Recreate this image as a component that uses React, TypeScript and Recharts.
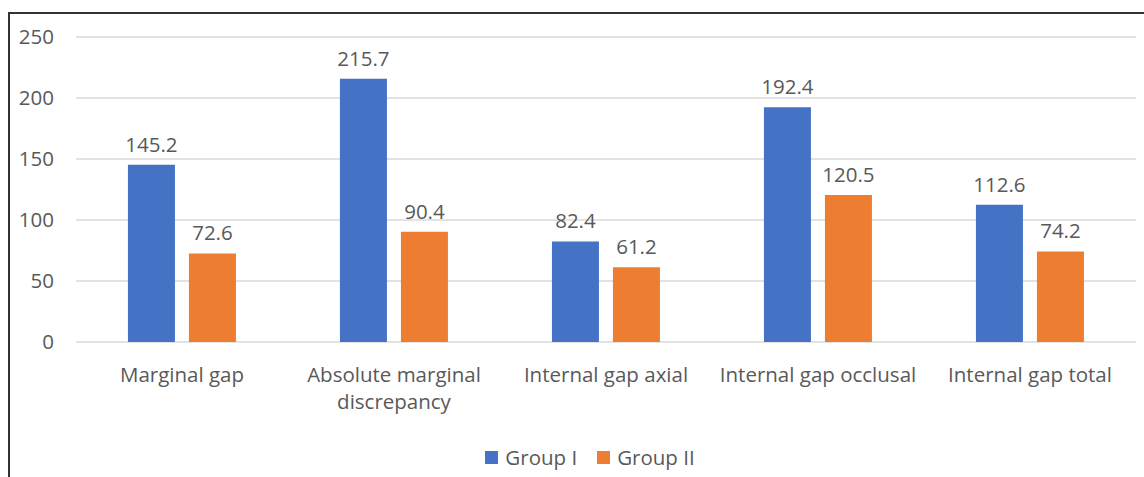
import React from 'react';
import { Bar, BarChart, CartesianGrid, LabelList, Text, XAxis, YAxis } from 'recharts';

const categories = [
  'Marginal gap',
  'Absolute marginal discrepancy',
  'Internal gap axial',
  'Internal gap occlusal',
  'Internal gap total',
];
const groupI = [145.2, 215.7, 82.4, 192.4, 112.6];
const groupII = [72.6, 90.4, 61.2, 120.5, 74.2];
const yTicks = [0, 50, 100, 150, 200, 250];
const legendItems = ['Group I', 'Group II'];

const FONT = '"Open Sans", sans-serif';
const TEXT = '#595959';
const BLUE = '#4472C4';
const ORANGE = '#ED7D31';

const chartData = categories.map((name, i) => ({
  name,
  groupI: groupI[i],
  groupII: groupII[i],
}));

// Category label, wraps onto a second line when it is too wide
const CategoryTick = ({ x, y, payload }: any) => (
  <Text
    x={x}
    y={y}
    dy={17}
    width={212}
    textAnchor="middle"
    verticalAnchor="start"
    lineHeight={27}
    fill={TEXT}
    style={{ fontFamily: FONT, fontSize: 20.5 }}
  >
    {payload.value}
  </Text>
);

const App: React.FC = () => {
  const colors = [BLUE, ORANGE];
  return (
    <div style={{ position: 'absolute', left: 0, top: 0, width: 1144, height: 477, background: '#fff' }}>
      <div
        style={{
          position: 'absolute',
          left: 8,
          top: 12,
          width: 1136,
          height: 465,
          borderLeft: '2px solid #333',
          borderTop: '2px solid #333',
          boxSizing: 'border-box',
        }}
      />
      <div style={{ position: 'absolute', left: 0, top: 0 }}>
        <BarChart
          width={1144}
          height={477}
          data={chartData}
          margin={{ top: 37, right: 8, left: 0, bottom: 105 }}
          barCategoryGap="24.5%"
          barGap={14}
        >
          <CartesianGrid vertical={false} stroke="#E3E3E3" strokeWidth={2} />
          <XAxis
            dataKey="name"
            height={30}
            axisLine={false}
            tickLine={false}
            interval={0}
            tick={<CategoryTick />}
          />
          <YAxis
            width={76}
            domain={[0, 250]}
            ticks={yTicks}
            axisLine={false}
            tickLine={false}
            tickSize={0}
            tickMargin={22}
            tick={{ fill: TEXT, fontSize: 20.5, fontFamily: FONT }}
          />
          <Bar dataKey="groupI" name="Group I" fill={BLUE} isAnimationActive={false}>
            <LabelList dataKey="groupI" position="top" offset={13} fill={TEXT} fontSize={20.5} fontFamily={FONT} />
          </Bar>
          <Bar dataKey="groupII" name="Group II" fill={ORANGE} isAnimationActive={false}>
            <LabelList dataKey="groupII" position="top" offset={13} fill={TEXT} fontSize={20.5} fontFamily={FONT} />
          </Bar>
        </BarChart>
      </div>
      <div
        style={{
          position: 'absolute',
          left: 0,
          top: 443,
          width: 1180,
          display: 'flex',
          justifyContent: 'center',
          fontFamily: FONT,
          fontSize: 20.5,
          lineHeight: '28px',
          color: TEXT,
        }}
      >
        {legendItems.map((label, i) => (
          <div key={label} style={{ display: 'flex', alignItems: 'center', margin: '0 10px' }}>
            <span style={{ width: 13, height: 13, background: colors[i], marginRight: 7, display: 'inline-block' }} />
            <span>{label}</span>
          </div>
        ))}
      </div>
    </div>
  );
};

export default App;
